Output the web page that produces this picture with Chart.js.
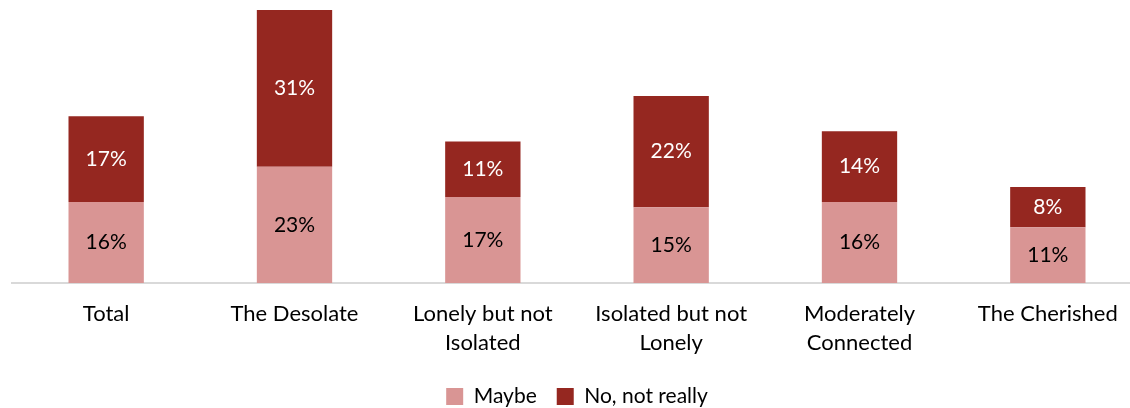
<!DOCTYPE html>
<html>
<head>
<meta charset="utf-8">
<script src="https://cdn.jsdelivr.net/npm/chart.js@4/dist/chart.umd.min.js"></script>
<style>
html,body{margin:0;padding:0;background:#fff;overflow:hidden;width:1130px;height:408px;}
#wrap{width:1142px;height:408px;position:relative;}
</style>
</head>
<body>
<div id="wrap"><canvas id="c"></canvas></div>
<script>
const categories = ["Total", "The Desolate", ["Lonely but not", "Isolated"], ["Isolated but not", "Lonely"], ["Moderately", "Connected"], "The Cherished"];
const maybeValues = [16, 23, 17, 15, 16, 11];
const noValues = [17, 31, 11, 22, 14, 8];
const seriesNames = ["Maybe", "No, not really"];

const FONT = "Lato, 'Open Sans', sans-serif";
const LEGEND_PAD = 20;

const labelPlugin = {
  id: 'segLabels',
  afterDatasetsDraw(chart) {
    const ctx = chart.ctx;
    ctx.save();
    ctx.font = "21px " + FONT;
    ctx.textAlign = 'center';
    ctx.textBaseline = 'middle';
    chart.data.datasets.forEach((ds, di) => {
      const meta = chart.getDatasetMeta(di);
      meta.data.forEach((bar, i) => {
        const v = ds.data[i];
        const y = (bar.y + bar.base) / 2;
        ctx.fillStyle = ds.labelColor;
        ctx.fillText(v + '%', bar.x, y);
      });
    });
    ctx.restore();
  }
};

const legendFitPlugin = {
  id: 'legendFit',
  beforeUpdate(chart) {
    const l = chart.legend;
    if (l && !l._patched) {
      const orig = l.fit;
      l.fit = function () { orig.call(this); this.height = this.height - LEGEND_PAD + 11; };
      l._patched = true;
    }
  }
};

new Chart(document.getElementById('c'), {
  type: 'bar',
  data: {
    labels: categories,
    datasets: [
      { label: seriesNames[0], data: maybeValues, backgroundColor: '#D99594', labelColor: '#000000' },
      { label: seriesNames[1], data: noValues, backgroundColor: '#952720', labelColor: '#FFFFFF' }
    ]
  },
  options: {
    responsive: true,
    maintainAspectRatio: false,
    animation: false,
    layout: { padding: { left: 12, right: 0, top: 0, bottom: 0 } },
    datasets: { bar: { categoryPercentage: 0.8, barPercentage: 0.5 } },
    scales: {
      x: {
        stacked: true,
        grid: { display: false },
        border: { display: true, color: '#D9D9D9', width: 2 },
        ticks: { color: '#000', font: { family: FONT, size: 22, lineHeight: 1.32 }, padding: 8, maxRotation: 0, autoSkip: false },
        afterFit: (scale) => { scale.height += 1; }
      },
      y: {
        stacked: true,
        display: false,
        min: 0,
        max: 56
      }
    },
    plugins: {
      legend: {
        position: 'bottom',
        labels: { color: '#000', font: { family: FONT, size: 21, lineHeight: 1.0 }, boxWidth: 17, boxHeight: 17, padding: LEGEND_PAD }
      },
      tooltip: { enabled: false }
    }
  },
  plugins: [labelPlugin, legendFitPlugin]
});
</script>
</body>
</html>
